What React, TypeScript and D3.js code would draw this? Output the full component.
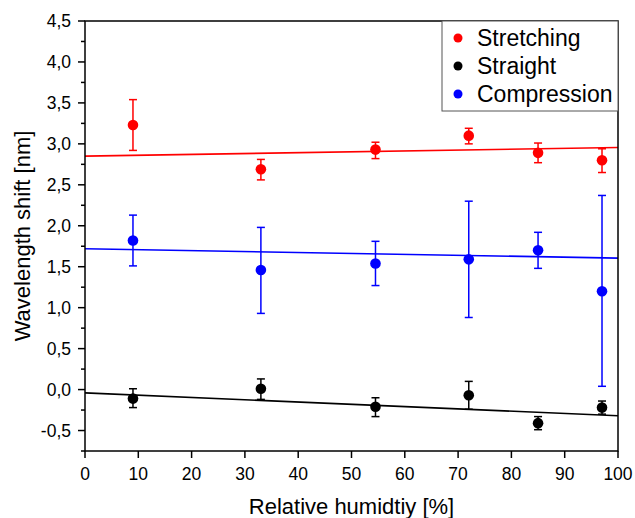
import React from "react";
import * as d3 from "d3";

const humidity = [9, 33, 54.5, 72, 85, 97];

const stretching = [3.23, 2.69, 2.93, 3.1, 2.89, 2.8];
const stretchingHi = [3.54, 2.81, 3.02, 3.19, 3.01, 2.94];
const stretchingLo = [2.92, 2.56, 2.82, 3.0, 2.77, 2.65];

const straight = [-0.11, 0.01, -0.21, -0.07, -0.41, -0.22];
const straightHi = [0.01, 0.13, -0.1, 0.1, -0.33, -0.14];
const straightLo = [-0.22, -0.12, -0.33, -0.24, -0.49, -0.3];

const compression = [1.82, 1.46, 1.54, 1.59, 1.7, 1.2];
const compressionHi = [2.13, 1.98, 1.81, 2.3, 1.92, 2.37];
const compressionLo = [1.51, 0.93, 1.27, 0.88, 1.48, 0.04];

// linear fit values at x = 0 and x = 100
const fitX = [0, 100];
const stretchingFit = [2.85, 2.955];
const straightFit = [-0.04, -0.32];
const compressionFit = [1.72, 1.605];

const xTicks = [0, 10, 20, 30, 40, 50, 60, 70, 80, 90, 100];
const yTicks = [-0.5, 0, 0.5, 1, 1.5, 2, 2.5, 3, 3.5, 4, 4.5];
const yMinor = [-0.75, -0.25, 0.25, 0.75, 1.25, 1.75, 2.25, 2.75, 3.25, 3.75, 4.25];

const series = [
  { name: "Stretching", color: "#ff0000", y: stretching, hi: stretchingHi, lo: stretchingLo, fit: stretchingFit },
  { name: "Straight", color: "#000000", y: straight, hi: straightHi, lo: straightLo, fit: straightFit },
  { name: "Compression", color: "#0000ff", y: compression, hi: compressionHi, lo: compressionLo, fit: compressionFit },
];

const W = 635;
const H = 518;
const margin = { left: 85, right: 17, top: 21, bottom: 67 };
const font = "'Liberation Sans', Arial, sans-serif";

export default function App() {
  const x = d3.scaleLinear().domain([0, 100]).range([margin.left, W - margin.right]);
  const y = d3.scaleLinear().domain([-0.75, 4.5]).range([H - margin.bottom, margin.top]);
  const [x0, x1] = x.range();
  const [yb, yt] = y.range();
  const line = d3
    .line<number>()
    .x((_, i) => x(fitX[i]))
    .y((d) => y(d));

  return (
    <div style={{ position: "absolute", left: 0, top: 0 }}>
      <svg width={W} height={H} style={{ fontFamily: font, background: "#fff" }}>
        {/* fit lines */}
        {series.map((s) => (
          <path key={s.name + "fit"} d={line(s.fit) || ""} stroke={s.color} strokeWidth={1.6} fill="none" />
        ))}
        {/* error bars and points */}
        {series.map((s) => (
          <g key={s.name}>
            {humidity.map((h, i) => (
              <g key={i} stroke={s.color} strokeWidth={1.5}>
                <line x1={x(h)} x2={x(h)} y1={y(s.hi[i])} y2={y(s.lo[i])} />
                <line x1={x(h) - 4} x2={x(h) + 4} y1={y(s.hi[i])} y2={y(s.hi[i])} />
                <line x1={x(h) - 4} x2={x(h) + 4} y1={y(s.lo[i])} y2={y(s.lo[i])} />
              </g>
            ))}
            {humidity.map((h, i) => (
              <circle key={"c" + i} cx={x(h)} cy={y(s.y[i])} r={5.3} fill={s.color} />
            ))}
          </g>
        ))}
        {/* frame */}
        <rect x={x0} y={yt} width={x1 - x0} height={yb - yt} fill="none" stroke="#000" strokeWidth={1.5} />
        {/* y ticks */}
        {yTicks.map((t) => (
          <g key={"y" + t}>
            <line x1={x0 - 7} x2={x0} y1={y(t)} y2={y(t)} stroke="#000" strokeWidth={1.5} />
            <text x={x0 - 14} y={y(t)} dy="0.36em" textAnchor="end" fontSize={17.5} fill="#000">
              {d3.format(".1f")(t).replace(".", ",").replace("−", "-")}
            </text>
          </g>
        ))}
        {yMinor.map((t) => (
          <line key={"ym" + t} x1={x0 - 4} x2={x0} y1={y(t)} y2={y(t)} stroke="#000" strokeWidth={1.5} />
        ))}
        {/* x ticks */}
        {xTicks.map((t) => (
          <g key={"x" + t}>
            <line x1={x(t)} x2={x(t)} y1={yb} y2={yb + 7} stroke="#000" strokeWidth={1.5} />
            <text x={x(t)} y={yb + 29} textAnchor="middle" fontSize={17.5} fill="#000">
              {t}
            </text>
          </g>
        ))}
        {/* axis titles */}
        <text x={(x0 + x1) / 2} y={514} textAnchor="middle" fontSize={22} fill="#000">
          Relative humidtiy [%]
        </text>
        <text
          transform={`translate(30,${(yb + yt) / 2}) rotate(-90)`}
          textAnchor="middle"
          fontSize={22}
          fill="#000"
        >
          Wavelength shift [nm]
        </text>
        {/* legend */}
        <g>
          <rect x={442} y={yt} width={x1 - 442} height={90} fill="#fff" stroke="#555" strokeWidth={1} />
          {series.map((s, i) => (
            <g key={"l" + s.name}>
              <circle cx={458} cy={38 + i * 28} r={4.5} fill={s.color} />
              <text x={477} y={38 + i * 28} dy="0.36em" fontSize={23} fill="#000">
                {s.name}
              </text>
            </g>
          ))}
        </g>
      </svg>
    </div>
  );
}
